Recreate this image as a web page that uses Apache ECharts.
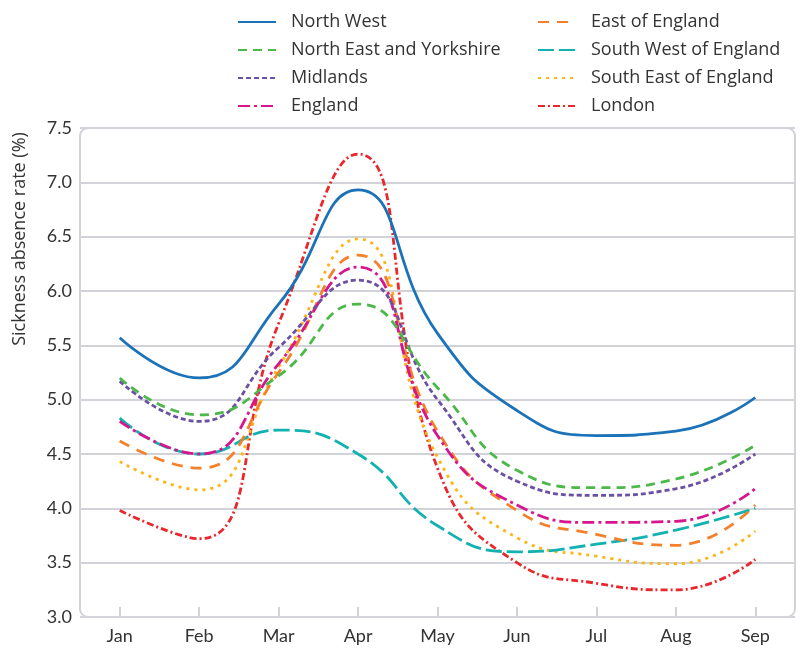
<!DOCTYPE html>
<html>
<head>
    <meta charset="utf-8">
    <title>Sickness absence</title>
    <script src="https://cdn.jsdelivr.net/npm/echarts@6/dist/echarts.min.js"></script>
    <style>
        *{ margin: 0; padding: 0; }
        html,body{ width: 100%; height: 100%; overflow: hidden; background: #fff; }
        #main{ width: 809px; height: 648px; }
    </style>
</head>
<body>
<div id="main"></div>
<script>
    // months on the x axis
    let months = ['Jan', 'Feb', 'Mar', 'Apr', 'May', 'Jun', 'Jul', 'Aug', 'Sep'];
    let yTicks = [3.0, 7.5, 0.5]; // min, max, step

    // sickness absence rate (%) per region
    let northWest   = [5.57, 5.20, 5.88, 6.93, 5.61, 4.90, 4.67, 4.71, 5.02];
    let northEast   = [5.20, 4.86, 5.22, 5.88, 5.11, 4.35, 4.19, 4.27, 4.58];
    let midlands    = [5.17, 4.80, 5.48, 6.10, 5.00, 4.25, 4.12, 4.18, 4.50];
    let england     = [4.80, 4.50, 5.33, 6.22, 4.67, 4.03, 3.87, 3.88, 4.18];
    let eastEngland = [4.62, 4.37, 5.25, 6.33, 4.71, 3.98, 3.76, 3.66, 4.03];
    let southWest   = [4.83, 4.50, 4.72, 4.50, 3.84, 3.60, 3.67, 3.80, 4.00];
    let southEast   = [4.43, 4.17, 5.30, 6.48, 4.47, 3.73, 3.56, 3.49, 3.79];
    let london      = [3.98, 3.72, 5.70, 7.26, 4.37, 3.50, 3.31, 3.25, 3.53];

    let names1 = ['North West', 'North East and Yorkshire', 'Midlands', 'England'];
    let names2 = ['East of England', 'South West of England', 'South East of England', 'London'];

    let font = '"Open Sans", sans-serif';
    let tickFont = 'Lato, sans-serif';
    let gridColor = '#d2d2d9';

    function line(name, data, color, type) {
        return {
            name: name,
            type: 'line',
            data: data,
            smooth: true,
            symbol: 'none',
            lineStyle: { color: color, width: 2.8, type: type },
            itemStyle: { color: color }
        };
    }

    let series = [
        line('London', london, '#e8282d', [7, 3, 2, 3]),
        line('South East of England', southEast, '#fdb515', [3, 5]),
        line('South West of England', southWest, '#12b2b0', [16, 5]),
        line('East of England', eastEngland, '#f5802a', [11, 8]),
        line('England', england, '#d6168d', [12, 4, 3, 4]),
        line('Midlands', midlands, '#6a51a3', [5, 3]),
        line('North East and Yorkshire', northEast, '#4cb84a', [9, 6]),
        line('North West', northWest, '#1b72b8', 'solid')
    ];

    let legendBase = {
        orient: 'vertical',
        top: 13,
        padding: 0,
        itemWidth: 38,
        itemHeight: 14,
        itemGap: 10,
        itemStyle: { opacity: 0 },
        textStyle: { fontFamily: font, fontSize: 18, color: '#333', padding: [0, 0, 0, 10] }
    };

    let myChart = echarts.init(document.getElementById('main'));
    let option = {
        backgroundColor: '#fff',
        animation: false,
        legend: [
            Object.assign({}, legendBase, { left: 237, data: names1 }),
            Object.assign({}, legendBase, { left: 537, data: names2 })
        ],
        grid: { left: 80, top: 128, width: 715, height: 489 },
        xAxis: {
            type: 'category',
            data: months,
            boundaryGap: true,
            axisLine: { show: false },
            axisTick: { show: true, inside: true, length: 10, alignWithLabel: true,
                lineStyle: { color: gridColor, width: 2 } },
            axisLabel: { fontFamily: tickFont, fontSize: 18, color: '#333', margin: 10 }
        },
        yAxis: {
            type: 'value',
            min: yTicks[0],
            max: yTicks[1],
            interval: yTicks[2],
            axisLine: { show: false },
            axisTick: { show: false },
            axisLabel: { fontFamily: tickFont, fontSize: 18, color: '#333', margin: 8,
                formatter: v => v.toFixed(1) },
            splitLine: { lineStyle: { color: gridColor, width: 2 } }
        },
        graphic: [
            {
                type: 'rect',
                silent: true,
                z: 10,
                shape: { x: 80, y: 128, width: 715, height: 489, r: 8 },
                style: { fill: 'none', stroke: gridColor, lineWidth: 2 }
            },
            {
                type: 'text',
                x: 20,
                y: 239,
                rotation: Math.PI / 2,
                style: {
                    text: 'Sickness absence rate (%)',
                    font: '18px ' + font,
                    fill: '#333',
                    align: 'center',
                    verticalAlign: 'middle'
                }
            }
        ],
        series: series
    };
    myChart.setOption(option);
</script>
</body>
</html>
